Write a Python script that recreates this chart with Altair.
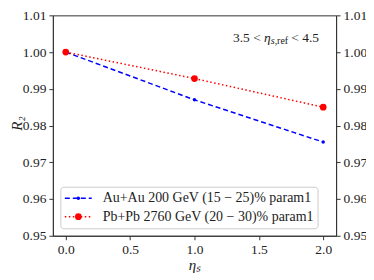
import altair as alt
import pandas as pd

eta = [0.0, 1.0, 2.0]
au_vals = [1.0, 0.987, 0.9755]
pb_vals = [1.0, 0.9928, 0.985]
labels = ["Au+Au 200 GeV (15 − 25)% param1", "Pb+Pb 2760 GeV (20 − 30)% param1"]
x_ticks = [0.0, 0.5, 1.0, 1.5, 2.0]
y_ticks = [0.95, 0.96, 0.97, 0.98, 0.99, 1.00, 1.01]

FONT = "Liberation Serif"
INK = "#222222"
xs = alt.Scale(domain=[-0.1, 2.1], nice=False, zero=False)
ys = alt.Scale(domain=[0.95, 1.01], nice=False, zero=False)

au = pd.DataFrame({"eta": eta, "R2": au_vals})
pb = pd.DataFrame({"eta": eta, "R2": pb_vals})

xaxis = alt.Axis(values=x_ticks, format=".1f", grid=False, labelOverlap=False,
                 titleX=142, titleY=29, titleBaseline="middle", titleAlign="center")
yaxis = alt.Axis(values=y_ticks, format=".2f", grid=False, labelOverlap=False,
                 titleAngle=270, titleX=-36.5, titleY=108, titleFontSize=15,
                 titleBaseline="middle", titleAlign="center")

def X(field):
    return alt.X(field, scale=xs, title="ηₛ", axis=xaxis)

def Y(field):
    return alt.Y(field, scale=ys, title="R₂", axis=yaxis)

BLUE_DASH = [5, 3]
RED_DASH = [1.5, 2.5]
au_line = alt.Chart(au).mark_line(color="#0000ff", strokeDash=BLUE_DASH, strokeWidth=1.5).encode(x=X("eta:Q"), y=Y("R2:Q"))
au_pts = alt.Chart(au).mark_circle(color="#0000ff", size=12, opacity=1).encode(x=X("eta:Q"), y=Y("R2:Q"))
pb_line = alt.Chart(pb).mark_line(color="#ff0000", strokeDash=RED_DASH, strokeWidth=1.5).encode(x=X("eta:Q"), y=Y("R2:Q"))
pb_pts = alt.Chart(pb).mark_circle(color="#ff0000", size=45, opacity=1).encode(x=X("eta:Q"), y=Y("R2:Q"))

# legend (placed in data coordinates)
leg_box = pd.DataFrame({"x": [-0.038], "x2": [1.96], "y": [0.9632], "y2": [0.9519]})
box = alt.Chart(leg_box).mark_rect(fill="white", fillOpacity=0.8, stroke="#cccccc",
                                   strokeWidth=1, cornerRadius=3).encode(
    x=X("x:Q"), x2="x2:Q", y=Y("y:Q"), y2="y2:Q")
leg_y = [0.9602, 0.9552]
l1 = pd.DataFrame({"x": [-0.007, 0.202], "y": [leg_y[0]] * 2})
l2 = pd.DataFrame({"x": [-0.007, 0.202], "y": [leg_y[1]] * 2})
leg_l1 = alt.Chart(l1).mark_line(color="#0000ff", strokeDash=BLUE_DASH, strokeWidth=1.5).encode(x=X("x:Q"), y=Y("y:Q"))
leg_l2 = alt.Chart(l2).mark_line(color="#ff0000", strokeDash=RED_DASH, strokeWidth=1.5).encode(x=X("x:Q"), y=Y("y:Q"))
m1 = pd.DataFrame({"x": [0.098], "y": [leg_y[0]]})
m2 = pd.DataFrame({"x": [0.098], "y": [leg_y[1]]})
leg_m1 = alt.Chart(m1).mark_circle(color="#0000ff", size=12, opacity=1).encode(x=X("x:Q"), y=Y("y:Q"))
leg_m2 = alt.Chart(m2).mark_circle(color="#ff0000", size=45, opacity=1).encode(x=X("x:Q"), y=Y("y:Q"))
lt = pd.DataFrame({"x": [0.287, 0.287], "y": leg_y, "t": labels})
leg_t = alt.Chart(lt).mark_text(align="left", baseline="middle", font=FONT, fontSize=14,
                                color=INK).encode(x=X("x:Q"), y=Y("y:Q"), text="t:N")

# annotation "3.5 < η_{s,ref} < 4.5"
ann = pd.DataFrame({"x": [1.968], "y": [1.0039]})
def piece(txt, dx, size=13.5, italic=False, dy=0):
    kw = dict(align="right", baseline="middle", font=FONT, fontSize=size, color=INK, dx=dx, dy=dy)
    if italic:
        kw["fontStyle"] = "italic"
    return alt.Chart(ann).mark_text(**kw).encode(x=X("x:Q"), y=Y("y:Q"), text=alt.value(txt))

a1 = piece("3.5 <", -58.5)
a2 = piece("η", -48.5, italic=True)
a3 = piece("s,", -42, size=10, italic=True, dy=3)
a3b = piece("ref", -31, size=10, dy=3)
a4 = piece("< 4.5", 0)

# right mirrored axis
right = alt.Chart(au).mark_line(opacity=0).encode(
    x=X("eta:Q"),
    y=alt.Y("R2:Q", scale=ys, title=None,
            axis=alt.Axis(orient="right", values=y_ticks, format=".2f", grid=False, labelOverlap=False)))

left = alt.layer(au_line, au_pts, pb_line, pb_pts, box, leg_l1, leg_l2, leg_m1, leg_m2, leg_t,
                 a1, a2, a3, a3b, a4)

chart = alt.layer(left, right).resolve_scale(y="independent").properties(
    width=284, height=221,
    padding={"left": 45, "top": 7, "right": 30, "bottom": 40},
    autosize="none",
).configure_view(stroke="#333333", strokeWidth=1).configure_axis(
    labelFont=FONT, titleFont=FONT, labelFontSize=13.5, labelColor=INK, labelOverlap=False,
    domainColor="#333333", tickColor="#333333", tickSize=4, labelPadding=3,
    titleFontWeight="normal", titleColor=INK, titleFontSize=15, titleFontStyle="italic",
)

chart.save("out.html", embed_options={"renderer": "svg", "actions": False})
